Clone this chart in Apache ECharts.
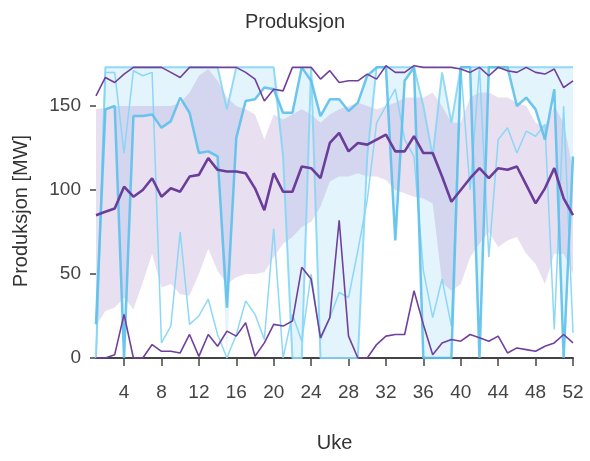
<!DOCTYPE html>
<html><head><meta charset="utf-8">
<script src="https://cdn.jsdelivr.net/npm/echarts@6/dist/echarts.min.js"></script>
<style>html,body{margin:0;padding:0;background:#fff}#c{width:590px;height:461px}</style>
</head><body><div id="c"></div><script>
const weeks = [1,2,3,4,5,6,7,8,9,10,11,12,13,14,15,16,17,18,19,20,21,22,23,24,25,26,27,28,29,30,31,32,33,34,35,36,37,38,39,40,41,42,43,44,45,46,47,48,49,50,51,52];
const xTicks = [4,8,12,16,20,24,28,32,36,40,44,48,52];
const yTicks = [0,50,100,150];

const purpleMedian = [85,87,89,102,96,100,107,96,101,99,108,109,119,112,111,111,110,101,88,110,99,99,114,113,107,128,134,123,128,127,130,133,123,123,132,122,122,108,93,100,107,113,107,113,112,114,103,92,101,113,95,85];
const purpleMax = [156,167,164,169,173,173,173,173,170,167,173,173,173,173,173,173,170,166,153,160,159,173,173,173,166,171,164,165,165,169,166,174,170,170,174,173,173,173,173,172,170,173,168,173,171,170,173,170,169,172,161,165];
const purpleMin = [0,0,2,26,0,0,8,4,4,3,14,1,14,7,16,13,21,1,9,20,19,22,54,47,12,24,82,13,0,0,8,13,14,14,40,20,2,9,11,10,14,12,10,13,3,6,5,4,7,9,14,9];
const purpleBandLow = [19,28,30,36,29,45,62,42,44,38,37,50,65,52,44,48,50,50,51,60,68,72,78,81,90,105,108,108,110,108,108,106,100,98,96,95,92,45,40,44,60,68,75,66,70,72,62,56,44,62,62,50];
const purpleBandHigh = [148,149,150,150,150,150,150,150,150,152,158,168,172,165,155,150,148,145,130,145,142,145,148,145,140,145,148,150,152,150,148,150,152,155,155,155,158,150,140,140,155,158,158,155,155,152,150,140,138,150,140,112];

const blueThick = [20,148,150,0,144,144,145,137,141,155,146,122,123,120,30,131,153,154,161,160,146,146,173,165,144,154,154,147,152,168,173,173,70,165,173,0,0,0,0,173,173,0,173,173,173,150,155,148,130,160,0,120];
const blueThin = [0,170,170,122,171,168,170,9,19,75,20,25,35,14,0,14,34,26,11,77,0,26,10,50,11,24,39,36,64,94,140,150,160,130,120,52,24,47,19,173,100,173,60,130,137,122,135,132,139,17,150,15];
const blueCap = [0,173,173,173,173,173,173,173,173,173,173,173,173,173,148,173,173,173,173,173,120,0,0,173,0,0,0,0,0,120,173,173,173,173,173,150,120,170,140,173,173,173,173,173,173,173,173,173,173,173,173,173];
const blueBandLow = [0,148,150,0,144,144,145,137,141,155,146,122,123,120,0,131,153,154,161,160,120,0,0,165,0,0,0,0,0,120,173,173,70,165,173,0,0,0,0,173,173,0,173,173,173,150,155,148,130,160,0,120];
const blueBandHigh = [20,173,173,173,173,173,173,173,173,173,173,173,173,173,148,173,173,173,173,173,146,146,173,173,144,154,154,147,152,168,173,173,173,173,173,150,120,170,140,173,173,173,173,173,173,173,173,173,173,173,173,173];

function pairs(arr){ return weeks.map((w,i)=>[w,arr[i]]); }
function band(lo, hi, color, z){
  return {type:'custom', coordinateSystem:'cartesian2d', silent:true, z:z, clip:true,
    data:[[weeks[0], lo[0]]], encode:{x:0, y:1},
    renderItem:function(params, api){
      const pts = [];
      for (let i=0;i<weeks.length;i++) pts.push(api.coord([weeks[i], hi[i]]));
      for (let i=weeks.length-1;i>=0;i--) pts.push(api.coord([weeks[i], lo[i]]));
      return {type:'polygon', shape:{points:pts}, style:{fill:color}};
    }};
}

const FF = 'Liberation Sans, Arial, sans-serif';
const chart = echarts.init(document.getElementById('c'), null, {renderer:'canvas'});
const base = {type:'line', symbol:'none', silent:true, animation:false};
chart.setOption({
  animation:false,
  backgroundColor:'#fff',
  textStyle:{fontFamily:FF},
  title:{text:'Produksjon', left:'center', top:7, textStyle:{fontSize:20, fontWeight:'normal', color:'#333', fontFamily:FF}},
  grid:{left:96, right:17, top:64, bottom:103},
  xAxis:{type:'value', min:1, max:52, name:'Uke', nameLocation:'middle', nameGap:75,
    nameTextStyle:{fontSize:20, color:'#333', fontFamily:FF},
    axisLine:{show:true, lineStyle:{color:'#444', width:2}},
    axisTick:{show:true, length:8, lineStyle:{color:'#444', width:1.5}, customValues:xTicks},
    axisLabel:{fontSize:19, color:'#444', margin:25, customValues:xTicks, fontFamily:FF},
    splitLine:{show:false}},
  yAxis:{type:'value', min:0, max:175, name:'Produksjon [MW]', nameLocation:'middle', nameGap:65, nameRotate:90,
    nameTextStyle:{fontSize:20, color:'#333', fontFamily:FF},
    axisLine:{show:false},
    axisTick:{show:true, length:6, lineStyle:{color:'#444', width:1.5}, customValues:yTicks},
    axisLabel:{fontSize:19, color:'#444', margin:15, customValues:yTicks, fontFamily:FF},
    splitLine:{show:false}},
  series:[
    band(blueBandLow, blueBandHigh, 'rgba(120,200,240,0.2)', 1),
    band(purpleBandLow, purpleBandHigh, 'rgba(150,110,190,0.22)', 2),
    Object.assign({}, base, {name:'cap', z:3, data:pairs(blueCap), lineStyle:{color:'#86d6f6', width:2, opacity:0.9}}),
    Object.assign({}, base, {name:'thin', z:3, data:pairs(blueThin), lineStyle:{color:'#86d6f6', width:1.5, opacity:0.95}}),
    Object.assign({}, base, {name:'thick', z:3, data:pairs(blueThick), lineStyle:{color:'#5cc0eb', width:2.5, opacity:0.9}}),
    Object.assign({}, base, {name:'pmax', z:4, data:pairs(purpleMax), lineStyle:{color:'#6f419d', width:1.6}}),
    Object.assign({}, base, {name:'pmin', z:4, data:pairs(purpleMin), lineStyle:{color:'#6f419d', width:1.6}}),
    Object.assign({}, base, {name:'pmed', z:4, data:pairs(purpleMedian), lineStyle:{color:'#6a3d9a', width:2.6}})
  ]
});
</script></body></html>
